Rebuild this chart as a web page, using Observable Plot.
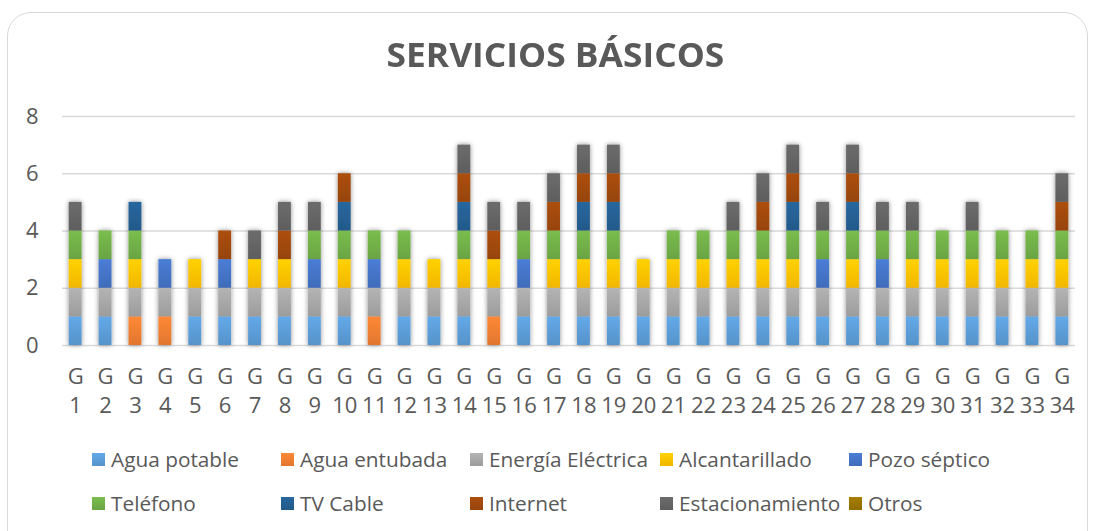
<!DOCTYPE html>
<html>
<head>
<meta charset="utf-8">
<script src="https://cdn.jsdelivr.net/npm/d3@7"></script>
<script src="https://cdn.jsdelivr.net/npm/@observablehq/plot@0.6"></script>
<style>
  html, body { margin: 0; padding: 0; background: #fff; }
  body { width: 1093px; height: 531px; overflow: hidden; position: relative; font-family: "Open Sans", sans-serif; color: #595959; }
  #frame { position: absolute; left: 7px; top: 12px; width: 1081px; height: 560px; border: 1.5px solid #d9d9d9; border-radius: 24px; box-sizing: border-box; }
  #title { position: absolute; top: 30px; left: 0; width: 1110px; text-align: center; font-weight: 700; font-size: 34px; line-height: 48px; color: #595959; }
  #title span { display: inline-block; transform: scaleX(1.04); transform-origin: center; }
  #chart { position: absolute; left: 0; top: 90px; }
  .leg { position: absolute; display: flex; align-items: center; font-size: 20.8px; color: #595959; white-space: nowrap; }
  .leg i { display: inline-block; width: 13px; height: 13px; margin-right: 6px; }
</style>
</head>
<body>
<div id="frame"></div>
<div id="title"><span>SERVICIOS BÁSICOS</span></div>
<div id="chart"></div>
<div id="legend"></div>
<script>
const categories = ["G 1","G 2","G 3","G 4","G 5","G 6","G 7","G 8","G 9","G 10","G 11","G 12","G 13","G 14","G 15","G 16","G 17","G 18","G 19","G 20","G 21","G 22","G 23","G 24","G 25","G 26","G 27","G 28","G 29","G 30","G 31","G 32","G 33","G 34"];
const seriesNames = ["Agua potable","Agua entubada","Energía Eléctrica","Alcantarillado","Pozo séptico","Teléfono","TV Cable","Internet","Estacionamiento","Otros"];
const seriesColors = ["#5B9BD5","#ED7D31","#A5A5A5","#FFC000","#4472C4","#70AD47","#255E91","#9E480E","#636363","#997300"];

const aguaPotable      = [1,1,0,0,1,1,1,1,1,1,0,1,1,1,0,1,1,1,1,1,1,1,1,1,1,1,1,1,1,1,1,1,1,1];
const aguaEntubada     = [0,0,1,1,0,0,0,0,0,0,1,0,0,0,1,0,0,0,0,0,0,0,0,0,0,0,0,0,0,0,0,0,0,0];
const energiaElectrica = [1,1,1,1,1,1,1,1,1,1,1,1,1,1,1,1,1,1,1,1,1,1,1,1,1,1,1,1,1,1,1,1,1,1];
const alcantarillado   = [1,0,1,0,1,0,1,1,0,1,0,1,1,1,1,0,1,1,1,1,1,1,1,1,1,0,1,0,1,1,1,1,1,1];
const pozoSeptico      = [0,1,0,1,0,1,0,0,1,0,1,0,0,0,0,1,0,0,0,0,0,0,0,0,0,1,0,1,0,0,0,0,0,0];
const telefono         = [1,1,1,0,0,0,0,0,1,1,1,1,0,1,0,1,1,1,1,0,1,1,1,1,1,1,1,1,1,1,1,1,1,1];
const tvCable          = [0,0,1,0,0,0,0,0,0,1,0,0,0,1,0,0,0,1,1,0,0,0,0,0,1,0,1,0,0,0,0,0,0,0];
const internet         = [0,0,0,0,0,1,0,1,0,1,0,0,0,1,1,0,1,1,1,0,0,0,0,1,1,0,1,0,0,0,0,0,0,1];
const estacionamiento  = [1,0,0,0,0,0,1,1,1,0,0,0,0,1,1,1,1,1,1,0,0,0,1,1,1,1,1,1,1,0,1,0,0,1];
const otros            = [0,0,0,0,0,0,0,0,0,0,0,0,0,0,0,0,0,0,0,0,0,0,0,0,0,0,0,0,0,0,0,0,0,0];
const yTicks = [0,2,4,6,8];

const seriesValues = [aguaPotable, aguaEntubada, energiaElectrica, alcantarillado, pozoSeptico, telefono, tvCable, internet, estacionamiento, otros];

const rows = [];
categories.forEach((c, i) => {
  seriesNames.forEach((s, j) => {
    const v = seriesValues[j][i];
    if (v > 0) rows.push({cat: c, serie: s, value: v});
  });
});

const svg = Plot.plot({
  width: 1093,
  height: 350,
  marginTop: 26,
  marginBottom: 95,
  marginLeft: 62,
  marginRight: 18,
  style: {fontFamily: "Open Sans, sans-serif", fontSize: "22px", color: "#595959", background: "transparent"},
  x: {domain: categories, paddingInner: 0.57, paddingOuter: 0.225, label: null},
  y: {domain: [0, 8], label: null},
  color: {domain: seriesNames, range: seriesColors},
  marks: [
    Plot.ruleY(yTicks, {stroke: "#d9d9d9", strokeWidth: 1.5}),
    Plot.barY(rows, {x: "cat", y: "value", fill: "serie", order: null}),
    Plot.axisY({ticks: yTicks, tickSize: 0, tickPadding: 24, fontSize: 22, fill: "#595959", label: null}),
    Plot.axisX({tickSize: 0, tickPadding: 18, fontSize: 22, fill: "#595959", lineHeight: 1.32, tickFormat: d => d.replace(" ", "\n"), label: null})
  ]
});

// gradients + shadow
const ns = "http://www.w3.org/2000/svg";
const defs = document.createElementNS(ns, "defs");
const gradId = {};
seriesColors.forEach((c, i) => {
  const g = document.createElementNS(ns, "linearGradient");
  g.setAttribute("id", "grad" + i);
  g.setAttribute("x1", "0"); g.setAttribute("y1", "0"); g.setAttribute("x2", "0"); g.setAttribute("y2", "1");
  const s1 = document.createElementNS(ns, "stop");
  s1.setAttribute("offset", "0"); s1.setAttribute("stop-color", d3.color(c).brighter(0.25).formatHex());
  const s2 = document.createElementNS(ns, "stop");
  s2.setAttribute("offset", "1"); s2.setAttribute("stop-color", d3.color(c).darker(0.15).formatHex());
  g.appendChild(s1); g.appendChild(s2);
  defs.appendChild(g);
  gradId[d3.color(c).formatHex()] = "url(#grad" + i + ")";
});
const filt = document.createElementNS(ns, "filter");
filt.setAttribute("id", "shadow");
filt.setAttribute("x", "-50%"); filt.setAttribute("y", "-10%"); filt.setAttribute("width", "200%"); filt.setAttribute("height", "120%");
const ds = document.createElementNS(ns, "feDropShadow");
ds.setAttribute("dx", "0"); ds.setAttribute("dy", "0"); ds.setAttribute("stdDeviation", "2.5");
ds.setAttribute("flood-color", "#000"); ds.setAttribute("flood-opacity", "0.45");
filt.appendChild(ds);
defs.appendChild(filt);
svg.insertBefore(defs, svg.firstChild);

const barG = svg.querySelector('g[aria-label="bar"]');
if (barG) {
  barG.setAttribute("filter", "url(#shadow)");
  barG.querySelectorAll("rect").forEach(r => {
    const f = r.getAttribute("fill");
    if (f) {
      const key = d3.color(f) ? d3.color(f).formatHex() : null;
      if (key && gradId[key]) r.setAttribute("fill", gradId[key]);
    }
  });
}
document.getElementById("chart").appendChild(svg);

// legend
const legX = [92, 281, 470, 660, 849];
const legY = [459, 503];
const legend = document.getElementById("legend");
seriesNames.forEach((s, i) => {
  const d = document.createElement("div");
  d.className = "leg";
  d.style.left = legX[i % 5] + "px";
  d.style.top = (legY[Math.floor(i / 5)] - 14) + "px";
  d.style.height = "28px";
  const sw = document.createElement("i");
  sw.style.background = `linear-gradient(${d3.color(seriesColors[i]).brighter(0.25).formatHex()}, ${d3.color(seriesColors[i]).darker(0.15).formatHex()})`;
  d.appendChild(sw);
  d.appendChild(document.createTextNode(s));
  legend.appendChild(d);
});
</script>
</body>
</html>
